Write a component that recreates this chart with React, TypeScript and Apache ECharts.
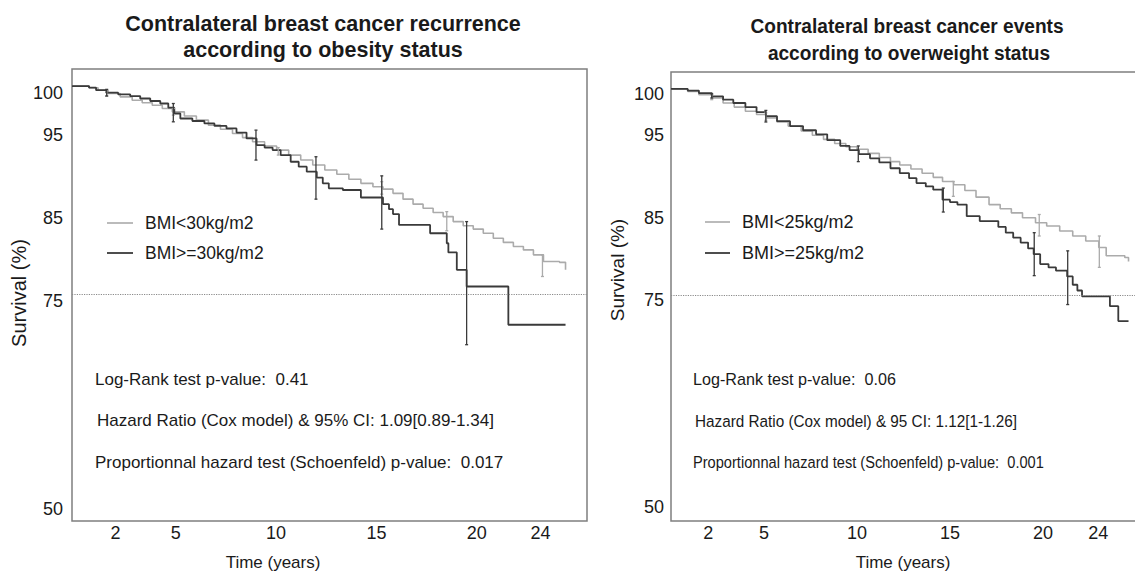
import React, { useEffect, useRef } from 'react';
import * as echarts from 'echarts';

const FONT = "'Liberation Sans', Arial, Helvetica, sans-serif";
const DARK = '#3a3a3a';
const LIGHT = '#ababab';
const FRAME = '#7f7f7f';
const TEXT = '#1a1a1a';

const yTickValues = [50, 75, 85, 95, 100];
const xTickValues = [2, 5, 10, 15, 20, 24];
const referenceSurvival = 75;

// ---------- Left panel: obesity status ----------
const obeseTime = [0, 0.85, 1.2, 1.7, 2.3, 2.9, 3.4, 3.9, 4.4, 4.8, 5.1, 5.4, 6.0, 6.6, 7.1, 7.7, 8.2, 8.7, 9.2, 9.6, 10.0, 10.4, 10.9, 11.3, 11.7, 12.2, 12.5, 12.8, 13.5, 14.4, 15.5, 15.8, 16.0, 16.3, 17.85, 18.68, 18.76, 19.18, 19.67, 21.75, 24.6];
const obeseSurv = [100, 99.8, 99.5, 99.2, 99.0, 98.8, 98.5, 98.2, 97.9, 97.4, 96.7, 96.1, 95.8, 95.5, 95.2, 94.9, 94.4, 93.7, 92.9, 92.6, 92.3, 91.7, 90.9, 90.3, 89.7, 89.0, 88.3, 87.7, 87.5, 86.6, 85.8, 85.2, 84.6, 83.3, 82.3, 81.1, 80.0, 77.9, 75.9, 71.3, 71.3];
const nonObeseTime = [0, 0.85, 1.3, 1.8, 2.4, 3.0, 3.5, 4.0, 4.5, 5.0, 5.6, 6.2, 6.8, 7.4, 8.0, 8.5, 9.0, 9.6, 10.2, 10.8, 11.4, 12.0, 12.6, 13.2, 13.8, 14.4, 15.0, 15.5, 16.0, 16.5, 17.0, 17.5, 18.0, 18.5, 19.0, 19.5, 20.0, 20.5, 21.0, 21.5, 22.0, 22.5, 23.0, 23.5, 24.3, 24.6];
const nonObeseSurv = [100, 99.8, 99.5, 99.1, 98.7, 98.3, 98.0, 97.7, 97.3, 96.9, 96.4, 95.9, 95.3, 94.8, 94.3, 93.8, 93.3, 92.8, 92.3, 91.7, 91.1, 90.5, 89.9, 89.4, 88.8, 88.3, 87.9, 87.6, 87.1, 86.4, 85.8, 85.3, 84.8, 84.3, 83.7, 83.2, 82.8, 82.3, 81.7, 81.2, 80.7, 80.3, 79.7, 78.9, 78.8, 77.9];
const obeseCiTime = [1.73, 5.05, 9.17, 12.16, 15.44, 19.67];
const obeseCiLow = [98.8, 95.7, 91.1, 86.4, 82.8, 68.9];
const obeseCiHigh = [99.6, 97.9, 94.7, 91.5, 89.2, 83.7];
const nonObeseCiTime = [1.73, 5.05, 10.28, 15.44, 18.68, 23.45];
const nonObeseCiLow = [98.8, 96.5, 91.7, 87.0, 82.6, 77.1];
const nonObeseCiHigh = [99.3, 97.3, 92.6, 88.5, 84.9, 79.7];

// ---------- Right panel: overweight status ----------
const overTime = [0, 0.9, 1.5, 2.2, 2.8, 3.35, 4.0, 4.6, 5.1, 5.7, 6.4, 7.1, 7.8, 8.4, 9.1, 9.6, 10.1, 10.7, 11.2, 11.8, 12.3, 12.8, 13.2, 13.7, 14.1, 14.6, 15.0, 15.4, 15.9, 16.6, 17.6, 18.0, 18.4, 18.8, 19.2, 19.5, 19.85, 20.3, 20.7, 21.3, 21.6, 21.85, 22.1, 23.6, 24.05, 24.6];
const overSurv = [100, 99.8, 99.5, 99.1, 98.7, 98.3, 97.8, 97.2, 96.7, 96.1, 95.5, 95.0, 94.5, 93.8, 93.1, 92.6, 92.1, 91.6, 91.1, 90.4, 89.8, 89.2, 88.6, 88.2, 87.8, 86.6, 86.3, 86.0, 84.6, 84.0, 83.3, 82.6, 82.0, 81.4, 80.7, 80.0, 78.8, 78.4, 78.0, 77.3, 76.3, 75.6, 74.9, 73.7, 71.9, 71.9];
const normalTime = [0, 0.9, 1.5, 2.2, 2.8, 3.4, 4.0, 4.6, 5.1, 5.7, 6.3, 7.0, 7.6, 8.2, 8.8, 9.4, 10.0, 10.6, 11.2, 11.8, 12.3, 12.9, 13.5, 14.1, 14.6, 15.2, 15.8, 16.4, 17.1, 17.7, 18.3, 18.9, 19.6, 20.2, 20.9, 21.6, 22.3, 23.0, 23.4, 24.4, 24.6];
const normalSurv = [100, 99.7, 99.3, 98.9, 98.3, 97.8, 97.3, 96.9, 96.5, 96.0, 95.5, 94.9, 94.4, 93.9, 93.4, 93.0, 92.7, 92.2, 91.7, 91.2, 90.8, 90.3, 89.8, 89.3, 88.8, 88.4, 87.7, 86.9, 86.0, 85.5, 85.0, 84.4, 83.8, 83.4, 82.8, 82.2, 81.6, 80.8, 79.8, 79.6, 79.1];
const overCiTime = [2.19, 5.1, 10.07, 14.64, 19.53, 21.33];
const overCiLow = [98.9, 96.0, 91.2, 85.1, 77.4, 73.9];
const overCiHigh = [99.4, 97.4, 93.1, 88.0, 82.6, 80.4];
const normalCiTime = [2.19, 5.1, 15.18, 19.8, 23.03];
const normalCiLow = [98.7, 96.2, 87.0, 82.2, 78.4];
const normalCiHigh = [99.3, 97.1, 88.8, 84.8, 82.2];

const zip2 = (a: number[], b: number[]) => a.map((v, i) => [v, b[i]]);
const zip3 = (a: number[], b: number[], c: number[]) => a.map((v, i) => [v, b[i], c[i]]);

const ciRenderer = (color: string) => (params: any, api: any) => {
  const t = api.value(0);
  const p1 = api.coord([t, api.value(1)]);
  const p2 = api.coord([t, api.value(2)]);
  const st = { stroke: color, lineWidth: 1.3 };
  return {
    type: 'group',
    children: [
      { type: 'line', shape: { x1: p1[0], y1: p1[1], x2: p2[0], y2: p2[1] }, style: st },
      { type: 'line', shape: { x1: p1[0] - 1.5, y1: p1[1], x2: p1[0] + 1.5, y2: p1[1] }, style: st },
      { type: 'line', shape: { x1: p2[0] - 1.5, y1: p2[1], x2: p2[0] + 1.5, y2: p2[1] }, style: st },
    ],
  };
};

const kmLine = (name: string, data: number[][], color: string, width: number, idx: number, withRef: boolean) => ({
  type: 'line',
  name,
  xAxisIndex: idx,
  yAxisIndex: idx,
  data,
  step: 'end',
  showSymbol: false,
  symbol: 'none',
  color,
  lineStyle: { color, width },
  z: color === DARK ? 4 : 3,
  markLine: withRef
    ? {
        silent: true,
        symbol: ['none', 'none'],
        label: { show: false },
        lineStyle: { color: '#8a8a8a', type: 'dotted', width: 1.2 },
        data: [{ yAxis: referenceSurvival }],
      }
    : undefined,
});

const ciSeries = (name: string, data: number[][], color: string, idx: number) => ({
  type: 'custom',
  name,
  xAxisIndex: idx,
  yAxisIndex: idx,
  data,
  renderItem: ciRenderer(color),
  encode: { x: 0, y: [1, 2] },
  z: 5,
});

const yAxisDef = (idx: number, shift: number) => ({
  type: 'value',
  gridIndex: idx,
  min: 47.7,
  max: 102.05,
  axisLine: { show: false },
  axisTick: { show: false },
  splitLine: { show: false },
  axisLabel: {
    customValues: yTickValues,
    fontSize: 18,
    fontFamily: FONT,
    color: TEXT,
    margin: idx === 0 ? 9 : 7,
    verticalAlign: 'top',
    lineHeight: shift * 2,
  },
});

const xAxisDef = (idx: number, max: number, padLeft: number, lastPadRight: number) => ({
  type: 'value',
  gridIndex: idx,
  min: 0,
  max,
  axisLine: { show: false },
  axisTick: { show: false },
  splitLine: { show: false },
  axisLabel: {
    customValues: xTickValues,
    fontSize: 18,
    fontFamily: FONT,
    color: TEXT,
    margin: 3,
    formatter: (v: number) => (v === xTickValues[xTickValues.length - 1] ? `{b|${v}}` : `{a|${v}}`),
    rich: {
      a: { fontSize: 18, fontFamily: FONT, color: TEXT, padding: [0, 0, 0, padLeft] },
      b: { fontSize: 18, fontFamily: FONT, color: TEXT, padding: [0, lastPadRight, 0, 0] },
    },
  },
});

const txt = (text: string, x: number, y: number, size: number, opts: any = {}) => ({
  type: 'text',
  x,
  y,
  scaleX: opts.scaleX ?? 1,
  rotation: opts.rotation ?? 0,
  style: {
    text,
    fill: TEXT,
    fontSize: size,
    fontFamily: FONT,
    fontWeight: opts.bold ? 'bold' : 'normal',
    align: opts.align ?? 'left',
    verticalAlign: 'middle',
  },
});

const seg = (x1: number, x2: number, y: number, color: string, w: number) => ({
  type: 'line',
  shape: { x1, y1: y, x2, y2: y },
  style: { stroke: color, lineWidth: w },
});

export default function App() {
  const ref = useRef<HTMLDivElement>(null);
  useEffect(() => {
    if (!ref.current) return;
    const chart = echarts.init(ref.current, undefined, { renderer: 'svg' });
    chart.setOption({
      animation: false,
      backgroundColor: '#ffffff',
      grid: [
        { left: 72, top: 69, width: 515, height: 452, show: true, borderColor: FRAME, borderWidth: 1.5, backgroundColor: 'transparent' },
        { left: 671, top: 72, width: 475, height: 449, show: false },
      ],
      xAxis: [xAxisDef(0, 25.67, 7, 26), xAxisDef(1, 25.54, 0, 38)],
      yAxis: [yAxisDef(0, 7), yAxisDef(1, 5)],
      series: [
        kmLine('BMI<30kg/m2', zip2(nonObeseTime, nonObeseSurv), LIGHT, 1.6, 0, false),
        kmLine('BMI>=30kg/m2', zip2(obeseTime, obeseSurv), DARK, 1.8, 0, true),
        ciSeries('CI BMI<30', zip3(nonObeseCiTime, nonObeseCiLow, nonObeseCiHigh), LIGHT, 0),
        ciSeries('CI BMI>=30', zip3(obeseCiTime, obeseCiLow, obeseCiHigh), DARK, 0),
        kmLine('BMI<25kg/m2', zip2(normalTime, normalSurv), LIGHT, 1.6, 1, false),
        kmLine('BMI>=25kg/m2', zip2(overTime, overSurv), DARK, 1.8, 1, true),
        ciSeries('CI BMI<25', zip3(normalCiTime, normalCiLow, normalCiHigh), LIGHT, 1),
        ciSeries('CI BMI>=25', zip3(overCiTime, overCiLow, overCiHigh), DARK, 1),
      ],
      graphic: [
        {
          type: 'polyline',
          shape: { points: [[1160, 72], [671, 72], [671, 521], [1160, 521]] },
          style: { stroke: FRAME, lineWidth: 1.5, fill: 'none' },
        },
        txt('Contralateral breast cancer recurrence', 323, 24, 21.5, { bold: true, align: 'center' }),
        txt('according to obesity status', 323, 50, 21.5, { bold: true, align: 'center' }),
        txt('Contralateral breast cancer events', 907, 26, 21, { bold: true, align: 'center', scaleX: 0.91 }),
        txt('according to overweight status', 909, 53, 21, { bold: true, align: 'center', scaleX: 0.91 }),
        txt('Survival (%)', 19, 293, 20, { align: 'center', rotation: Math.PI / 2 }),
        txt('Survival (%)', 617, 270, 19, { align: 'center', rotation: Math.PI / 2 }),
        txt('Time (years)', 273, 562, 17, { align: 'center' }),
        txt('Time (years)', 903, 562, 17, { align: 'center' }),
        seg(107, 133, 223, LIGHT, 1.6),
        seg(107, 133, 253, DARK, 1.8),
        txt('BMI<30kg/m2', 145, 223, 17.5),
        txt('BMI>=30kg/m2', 145, 253, 17.5),
        seg(705, 730, 222, LIGHT, 1.6),
        seg(705, 730, 253, DARK, 1.8),
        txt('BMI<25kg/m2', 742, 222, 18),
        txt('BMI>=25kg/m2', 742, 253, 18),
        txt('Log-Rank test p-value:  0.41', 95, 379, 17),
        txt('Hazard Ratio (Cox model) & 95% CI: 1.09[0.89-1.34]', 97, 420, 17),
        txt('Proportionnal hazard test (Schoenfeld) p-value:  0.017', 95, 462, 17),
        txt('Log-Rank test p-value:  0.06', 693, 379, 17, { scaleX: 0.95 }),
        txt('Hazard Ratio (Cox model) & 95 CI: 1.12[1-1.26]', 695, 421, 17, { scaleX: 0.9 }),
        txt('Proportionnal hazard test (Schoenfeld) p-value:  0.001', 693, 462, 17, { scaleX: 0.86 }),
      ],
    });
    return () => chart.dispose();
  }, []);
  return (
    <div style={{ position: 'absolute', left: 0, top: 0, width: 1135, height: 582, overflow: 'hidden' }}>
      <div ref={ref} style={{ width: 1160, height: 582 }} />
    </div>
  );
}
